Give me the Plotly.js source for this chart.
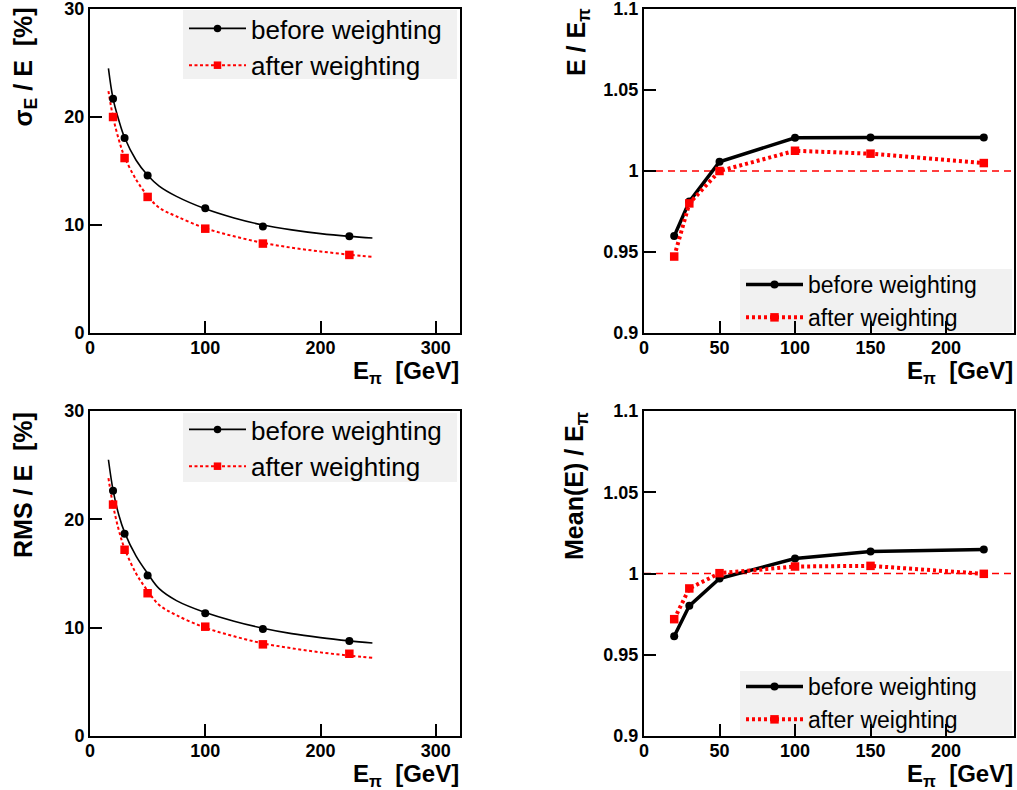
<!DOCTYPE html>
<html><head><meta charset="utf-8">
<script src="https://cdn.plot.ly/plotly-3.0.1.min.js"></script>
<style>body{margin:0;padding:0;background:#fff}#chart{width:1017px;height:790px}</style>
</head><body><div id="chart"></div>
<script>
// ---- data ----
const beamE = [20, 30, 50, 100, 150, 225];
const resBefore = [21.7, 18.06, 14.58, 11.54, 9.85, 8.95];
const resAfter  = [20.0, 16.2, 12.6, 9.66, 8.28, 7.23];
const fitE = [16, 20, 25, 30, 40, 50, 60, 75, 100, 125, 150, 175, 200, 225, 245];
const resFitBefore = [24.5, 21.7, 19.7, 18.1, 16.0, 14.6, 13.6, 12.65, 11.5, 10.65, 10.0, 9.55, 9.2, 8.95, 8.8];
const resFitAfter  = [22.4, 20.0, 17.9, 16.3, 14.2, 12.7, 11.6, 10.8, 9.7, 8.95, 8.35, 7.9, 7.55, 7.25, 7.05];
const rmsBefore = [22.65, 18.67, 14.81, 11.33, 9.88, 8.77];
const rmsAfter  = [21.36, 17.19, 13.18, 10.09, 8.46, 7.59];
const rmsFitBefore = [25.5, 22.7, 20.4, 18.8, 16.6, 15.0, 13.6, 12.5, 11.4, 10.6, 9.95, 9.45, 9.08, 8.78, 8.58];
const rmsFitAfter  = [23.8, 21.3, 19.0, 17.3, 15.0, 13.4, 12.1, 11.15, 10.0, 9.2, 8.55, 8.1, 7.72, 7.42, 7.22];
const linBefore  = [0.9598, 0.9811, 1.0057, 1.0205, 1.0207, 1.0207];
const linAfter   = [0.9472, 0.9800, 1.0000, 1.0125, 1.0107, 1.0049];
const meanBefore = [0.9614, 0.9801, 0.9969, 1.0092, 1.0136, 1.0148];
const meanAfter  = [0.9719, 0.9908, 1.0002, 1.0043, 1.0047, 0.9998];
const refLevel = 1;
const seriesNames = ['before weighting', 'after weighting'];
const leftXTicks = [0, 100, 200, 300];
const leftYTicks = [0, 10, 20, 30];
const rightXTicks = [0, 50, 100, 150, 200];
const rightYTicks = [0.9, 0.95, 1, 1.05, 1.1];
const rightYText = ['0.9', '0.95', '1', '1.05', '1.1'];

// ---- styles ----
const FONT = 'Liberation Sans, Arial, Helvetica, sans-serif';
const W = 1017, H = 790;
const px = v => v / W, py = v => 1 - v / H;
const black = '#000000', red = '#ff0000';
const thinBlackLine = {color: black, width: 1.6, shape: 'spline', smoothing: 1};
const thinRedLine = {color: red, width: 2, dash: '3px,2.5px', shape: 'spline', smoothing: 1};
const legBlackLine = {color: black, width: 1.6};
const legRedLine = {color: red, width: 2, dash: '3px,2.5px'};
const thickBlackLine = {color: black, width: 3.5};
const thickRedLine = {color: red, width: 4, dash: '3px,3px'};
const circ = {symbol: 'circle', size: 8, color: black};
const sq = {symbol: 'square', size: 8.5, color: red};
const circL = {symbol: 'circle', size: 7.5, color: black};
const sqL = {symbol: 'square', size: 7.5, color: red};

const traces = [];
function addLeft(xa, ya, yb, ya2, fb, fa, legendName) {
  traces.push({x: fitE, y: fb, xaxis: xa, yaxis: ya, mode: 'lines', line: thinBlackLine, showlegend: false, hoverinfo: 'skip'});
  traces.push({x: fitE, y: fa, xaxis: xa, yaxis: ya, mode: 'lines', line: thinRedLine, showlegend: false, hoverinfo: 'skip'});
  traces.push({x: beamE, y: yb, xaxis: xa, yaxis: ya, mode: 'markers', marker: circ, showlegend: false});
  traces.push({x: beamE, y: ya2, xaxis: xa, yaxis: ya, mode: 'markers', marker: sq, showlegend: false});
  traces.push({x: [null], y: [null], xaxis: xa, yaxis: ya, mode: 'lines+markers', line: legBlackLine, marker: circL, name: seriesNames[0], legend: legendName});
  traces.push({x: [null], y: [null], xaxis: xa, yaxis: ya, mode: 'lines+markers', line: legRedLine, marker: sqL, name: seriesNames[1], legend: legendName});
}
function addRight(xa, ya, yb, ya2, legendName) {
  traces.push({x: beamE, y: yb, xaxis: xa, yaxis: ya, mode: 'lines+markers', line: thickBlackLine, marker: circ, name: seriesNames[0], legend: legendName});
  traces.push({x: beamE, y: ya2, xaxis: xa, yaxis: ya, mode: 'lines+markers', line: thickRedLine, marker: sq, name: seriesNames[1], legend: legendName});
}
addLeft('x', 'y', resBefore, resAfter, resFitBefore, resFitAfter, 'legend');
addRight('x2', 'y2', linBefore, linAfter, 'legend2');
addLeft('x3', 'y3', rmsBefore, rmsAfter, rmsFitBefore, rmsFitAfter, 'legend3');
addRight('x4', 'y4', meanBefore, meanAfter, 'legend4');

const tickFont = {family: FONT, size: 18, color: black, weight: 'bold'};
function axis(domain, range, tv, tt, anchor, isX) {
  const a = {domain: domain, range: range, tickvals: tv, ticktext: tt, anchor: anchor,
    showline: true, mirror: true, linecolor: black, linewidth: 2,
    ticks: 'inside', ticklen: 12, tickwidth: 2, tickcolor: black, ticklabeloverflow: 'allow',
    showgrid: false, zeroline: false, tickfont: tickFont, fixedrange: true};
  if (isX) a.ticklabelstandoff = -3;
  return a;
}
const dxL = [px(90), px(460)], dxR = [px(644), px(1014)];
const dyT = [py(333), py(9)], dyB = [py(736), py(411)];

const legendBase = {bgcolor: 'rgba(0,0,0,0)', borderwidth: 0, xanchor: 'left', yanchor: 'top', tracegroupgap: 0, itemclick: false, itemwidth: 57};
const layout = {
  width: W, height: H, margin: {l: 0, r: 0, t: 0, b: 0},
  paper_bgcolor: '#ffffff', plot_bgcolor: '#ffffff', showlegend: true,
  xaxis: axis(dxL, [0, 321], leftXTicks, leftXTicks.map(String), 'y', true),
  yaxis: axis(dyT, [0, 30], leftYTicks, leftYTicks.map(String), 'x'),
  xaxis2: axis(dxR, [0, 245], rightXTicks, rightXTicks.map(String), 'y2', true),
  yaxis2: axis(dyT, [0.9, 1.1], rightYTicks, rightYText, 'x2'),
  xaxis3: axis(dxL, [0, 321], leftXTicks, leftXTicks.map(String), 'y3', true),
  yaxis3: axis(dyB, [0, 30], leftYTicks, leftYTicks.map(String), 'x3'),
  xaxis4: axis(dxR, [0, 245], rightXTicks, rightXTicks.map(String), 'y4', true),
  yaxis4: axis(dyB, [0.9, 1.1], rightYTicks, rightYText, 'x4'),
  legend:  Object.assign({}, legendBase, {x: px(184), y: py(5), font: {family: FONT, size: 26, color: black}}),
  legend2: Object.assign({}, legendBase, {x: px(741), y: py(263), font: {family: FONT, size: 23, color: black}}),
  legend3: Object.assign({}, legendBase, {x: px(184), y: py(406), font: {family: FONT, size: 26, color: black}}),
  legend4: Object.assign({}, legendBase, {x: px(741), y: py(665), font: {family: FONT, size: 23, color: black}}),
  shapes: [
    {type: 'rect', xref: 'paper', yref: 'paper', x0: px(183), x1: px(457), y0: py(79), y1: py(10), fillcolor: '#f1f1f1', line: {width: 0}, layer: 'below'},
    {type: 'rect', xref: 'paper', yref: 'paper', x0: px(740), x1: px(1012), y0: py(332), y1: py(269), fillcolor: '#f1f1f1', line: {width: 0}, layer: 'below'},
    {type: 'rect', xref: 'paper', yref: 'paper', x0: px(183), x1: px(457), y0: py(482), y1: py(413), fillcolor: '#f1f1f1', line: {width: 0}, layer: 'below'},
    {type: 'rect', xref: 'paper', yref: 'paper', x0: px(740), x1: px(1012), y0: py(735), y1: py(671), fillcolor: '#f1f1f1', line: {width: 0}, layer: 'below'},
    {type: 'line', xref: 'x2 domain', yref: 'y2', x0: 0, x1: 1, y0: refLevel, y1: refLevel, line: {color: red, width: 1.3, dash: '7px,5px'}, layer: 'below'},
    {type: 'line', xref: 'x4 domain', yref: 'y4', x0: 0, x1: 1, y0: refLevel, y1: refLevel, line: {color: red, width: 1.3, dash: '7px,5px'}, layer: 'below'}
  ],
  annotations: []
};
const titleFont = {family: FONT, size: 25, color: black, weight: 'bold'};
const xTitleFont = {family: FONT, size: 24, color: black, weight: 'bold'};
const sp = '\u00a0\u00a0';
function xTitle(xr, yc) {
  return {text: 'E<sub>π</sub>' + sp + '[GeV]', xref: 'paper', yref: 'paper', x: px(xr), y: py(yc), xanchor: 'right', yanchor: 'middle', showarrow: false, font: xTitleFont};
}
function yTitle(text, xc, yt) {
  return {text: text, xref: 'paper', yref: 'paper', x: px(xc), y: py(yt), xanchor: 'center', yanchor: 'top', textangle: -90, showarrow: false, font: titleFont};
}
layout.annotations.push(xTitle(461, 372), xTitle(1015, 372), xTitle(461, 775), xTitle(1015, 775));
layout.annotations.push(
  yTitle('σ<sub>E</sub> / E' + sp + '[%]', 24, 6),
  yTitle('E / E<sub>π</sub>', 578, 6),
  yTitle('RMS / E' + sp + '[%]', 23, 410),
  yTitle('Mean(E) / E<sub>π</sub>', 576, 410)
);
Plotly.newPlot('chart', traces, layout, {staticPlot: true, displayModeBar: false});
</script></body></html>
